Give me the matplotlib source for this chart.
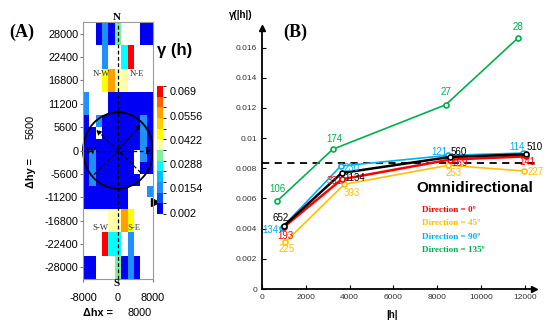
import numpy as np
import matplotlib.pyplot as plt
from matplotlib.colors import ListedColormap, BoundaryNorm
from matplotlib.patches import Ellipse

plt.rcParams['font.family'] = ['Liberation Sans', 'DejaVu Sans']

# ---------------- (A) variogram map ----------------
# one string per row (top -> bottom), one char per cell (left -> right)
# '.' = empty cell, 1..9,a,b,c = colour class of gamma(h)
map_rows = [
    "..1316...11",
    "..1316...11",
    "...3..5c...",
    "...3..5c...",
    "...8a77....",
    "...8a77....",
    "3...1111111",
    "3...1111111",
    "1.311111131",
    "11.11111131",
    "11111111131",
    "13111111.31",
    "13111111.11",
    "131111111..",
    "1111111...3",
    "1111111....",
    "....77a8...",
    "....77a8...",
    "...c55.3...",
    "...c55.3...",
    "11...6131..",
    "11...6131..",
]
class_codes = "123456789abc"
class_colors = ["#0000f5", "#0050ff", "#1e90ff", "#00bfff", "#00ffff", "#80f0a0",
                "#ffffa8", "#ffff00", "#ffd000", "#ffa000", "#ff6000", "#ff0000"]
gamma_min, gamma_max = 0.0012, 0.072
cbar_ticks = [0.002, 0.0154, 0.0288, 0.0422, 0.0556, 0.069]
hx_ticks = [-8000, 0, 8000]
hy_ticks = [28000, 22400, 16800, 11200, 5600, 0, -5600, -11200, -16800, -22400, -28000]
hx_lim = 8000
hy_lim = 30800

# ---------------- (B) directional variograms ----------------
omni_h = [991, 3639, 8584, 12055]
omni_g = [0.00417, 0.00769, 0.00875, 0.00893]
omni_n = [652, 1134, 560, 510]

d0_h = [991, 3639, 8584, 12055]
d0_g = [0.00410, 0.00727, 0.00858, 0.00879]
d0_n = [193, 331, 169, 141]

d45_h = [1064, 3758, 8507, 11977]
d45_g = [0.00311, 0.00694, 0.00820, 0.00782]
d45_n = [225, 393, 253, 227]

d90_h = [900, 3594, 8507, 11932]
d90_g = [0.00405, 0.00815, 0.00886, 0.00901]
d90_n = [134, 230, 121, 114]

d135_h = [699, 3228, 8388, 11689]
d135_g = [0.00584, 0.00926, 0.01221, 0.01664]
d135_n = [106, 174, 27, 28]

sill = 0.00836
b_xticks = [0, 2000, 4000, 6000, 8000, 10000, 12000]
b_yticks = [0, 0.002, 0.004, 0.006, 0.008, 0.01, 0.012, 0.014, 0.016]
b_yticklabels = ["0", "0.002", "0.004", "0.006", "0.008", "0.01", "0.012", "0.014", "0.016"]

W, H = 550, 326
def fx(px):
    return px / W
def fy(py):
    return 1 - py / H

fig = plt.figure(figsize=(5.5, 3.26), dpi=100)

# ---- panel A ----
ax_a = fig.add_axes([fx(83), fy(279), fx(153) - fx(83), fy(22) - fy(279)])
step = (gamma_max - gamma_min) / len(class_colors)
grid = np.full((len(map_rows), len(map_rows[0])), np.nan)
for i, row in enumerate(map_rows):
    for j, c in enumerate(row):
        if c != '.':
            grid[i, j] = gamma_min + (class_codes.index(c) + 0.5) * step
cmap = ListedColormap(class_colors)
norm = BoundaryNorm(np.linspace(gamma_min, gamma_max, len(class_colors) + 1), cmap.N)
im = ax_a.imshow(np.ma.masked_invalid(grid), cmap=cmap, norm=norm, aspect='auto',
                 interpolation='nearest', extent=(-hx_lim, hx_lim, -hy_lim, hy_lim))
ax_a.set_xlim(-hx_lim, hx_lim)
ax_a.set_ylim(-hy_lim, hy_lim)
ax_a.set_xticks(hx_ticks)
ax_a.set_yticks(hy_ticks)
ax_a.set_xticklabels([str(v) for v in hx_ticks])
ax_a.set_yticklabels([str(v) for v in hy_ticks])
ax_a.tick_params(axis='both', labelsize=7.8, length=2, color='#777', pad=1.5)
ax_a.tick_params(axis='x', pad=8)
for s in ax_a.spines.values():
    s.set_color('#999')
    s.set_linewidth(0.8)

# orientation guides
ax_a.plot([0, 0], [-hy_lim, hy_lim], color='k', lw=0.9, ls=(0, (3, 2)))
ax_a.plot([-hx_lim, hx_lim], [0, 0], color='k', lw=0.9, ls=(0, (3, 2)))
ax_a.plot([5200, 0], [-5300, 0], color='k', lw=0.9, ls=(0, (3, 2)))
ax_a.plot([-5500, 0], [-5800, 0], color='k', lw=0.9, ls=(0, (3, 2)))
ax_a.annotate('', xy=(-5000, 5000), xytext=(0, 0),
              arrowprops=dict(arrowstyle='-|>', color='k', lw=0.9, ls=(0, (3, 2)),
                              mutation_scale=7, shrinkA=0, shrinkB=0))
ax_a.annotate('', xy=(5260, 6300), xytext=(0, 0),
              arrowprops=dict(arrowstyle='-|>', color='k', lw=0.9, ls=(0, (3, 2)),
                              mutation_scale=7, shrinkA=0, shrinkB=0))
ax_a.add_patch(Ellipse((0, 0), 16000, 18300, fill=False, ec='k', lw=1.3, clip_on=False))
ax_a.plot([8500], [-12400], marker='>', color='k', ms=6, clip_on=False)

serif = ['Liberation Serif', 'DejaVu Serif']
fig.text(fx(117), fy(17), "N", family=serif, weight='bold', fontsize=8, ha='center', va='center')
fig.text(fx(117), fy(284), "S", family=serif, weight='bold', fontsize=8, ha='center', va='center')
fig.text(fx(90), fy(151), "W", family=serif, weight='bold', fontsize=8, ha='center', va='center')
fig.text(fx(149), fy(152), "E", family=serif, weight='bold', fontsize=8, ha='center', va='center')
for lab, px, py in [("N-W", 101.7, 74), ("N-E", 136.7, 74), ("S-W", 100, 228), ("S-E", 134, 228)]:
    fig.text(fx(px), fy(py), lab, family=serif, fontsize=6.3, color='#333', ha='center', va='center')

fig.text(fx(22), fy(32), "(A)", family=serif, weight='bold', fontsize=13, ha='center', va='center')
fig.text(fx(31), fy(173), "\u0394hy =", weight='bold', fontsize=7.8, rotation=90, ha='center', va='center')
fig.text(fx(31), fy(127), "5600", fontsize=7.8, rotation=90, ha='center', va='center')
fig.text(fx(83), fy(313), "\u0394hx =", weight='bold', fontsize=7.8, ha='left', va='center')
fig.text(fx(127), fy(313), "8000", fontsize=7.8, ha='left', va='center')

# colour bar
cax = fig.add_axes([fx(157), fy(214), fx(163) - fx(157), fy(86) - fy(214)])
cb = fig.colorbar(im, cax=cax, ticks=cbar_ticks)
cb.ax.set_yticklabels([str(t) for t in cbar_ticks])
cb.ax.tick_params(length=0, labelsize=7.8, pad=5)
cb.outline.set_visible(False)
fig.text(fx(175), fy(51), "\u03b3 (h)", weight='bold', fontsize=12, ha='center', va='center')

# ---- panel B ----
x_max, y_max = 12420, 0.0173
ax_b = fig.add_axes([fx(262), fy(289), fx(534) - fx(262), fy(28) - fy(289)])
ax_b.set_xlim(0, x_max)
ax_b.set_ylim(0, y_max)
for side in ['top', 'right']:
    ax_b.spines[side].set_visible(False)
for side in ['left', 'bottom']:
    ax_b.spines[side].set_linewidth(1.3)
ax_b.plot([1], [0], marker='>', color='k', ms=5, transform=ax_b.transAxes, clip_on=False)
ax_b.plot([0], [1], marker='^', color='k', ms=5, transform=ax_b.transAxes, clip_on=False)
ax_b.set_xticks(b_xticks)
ax_b.set_yticks(b_yticks)
ax_b.set_yticklabels(b_yticklabels)
ax_b.tick_params(axis='both', direction='in', length=3, width=0.8, labelsize=6, labelcolor='#333')

ax_b.plot([0, 12500], [sill, sill], color='k', lw=1.3, ls=(0, (4, 3)), clip_on=False)

green, orange, blue, red = "#00b050", "#ffc000", "#00b0f0", "#ff0000"
series = [
    (d135_h, d135_g, d135_n, green, 1.2, [(0, 11.7), (2, 10.7), (0, 12.6), (0, 10.7)]),
    (d45_h, d45_g, d45_n, orange, 1.2, [(1, -7), (8, -9), (5.5, -7.7), (11, -1)]),
    (d90_h, d90_g, d90_n, blue, 1.2, [(-11, -2), (10.6, -1.7), (-9, 3.3), (-6.6, 6.4)]),
    (d0_h, d0_g, d0_n, red, 1.8, [(2, -8.5), (-7, -2), (10, -3), (1, -6)]),
    (omni_h, omni_g, omni_n, 'k', 1.8, [(-3, 8), (12.5, -5), (9, 5), (9, 7)]),
]
for h, g, n, col, lw, offs in series:
    ax_b.plot(h, g, color=col, lw=lw, marker='o', ms=3.6, mfc='white', mew=1.2)
for h, g, n, col, lw, offs in series:
    for hi, gi, ni, (dx, dy) in zip(h, g, n, offs):
        ax_b.annotate(str(ni), (hi, gi), xytext=(dx, dy), textcoords='offset pixels',
                      color=col, fontsize=7, ha='center', va='center')

fig.text(fx(241), fy(15), "\u03b3(|h|)", weight='bold', fontsize=7, ha='center', va='center')
fig.text(fx(392), fy(315), "|h|", weight='bold', fontsize=7, ha='center', va='center')
fig.text(fx(295), fy(32), "(B)", family=serif, weight='bold', fontsize=13, ha='center', va='center')

fig.text(fx(475), fy(188), "Omnidirectional", weight='bold', fontsize=11, ha='center', va='center')
for lab, col, py in [("Direction = 0\u00ba", red, 210), ("Direction = 45\u00ba", orange, 223),
                     ("Direction = 90\u00ba", blue, 237), ("Direction = 135\u00ba", green, 250)]:
    fig.text(fx(422), fy(py), lab, family=serif, weight='bold', fontsize=6.6, color=col,
             ha='left', va='center')

fig.savefig("out.png", dpi=100)
